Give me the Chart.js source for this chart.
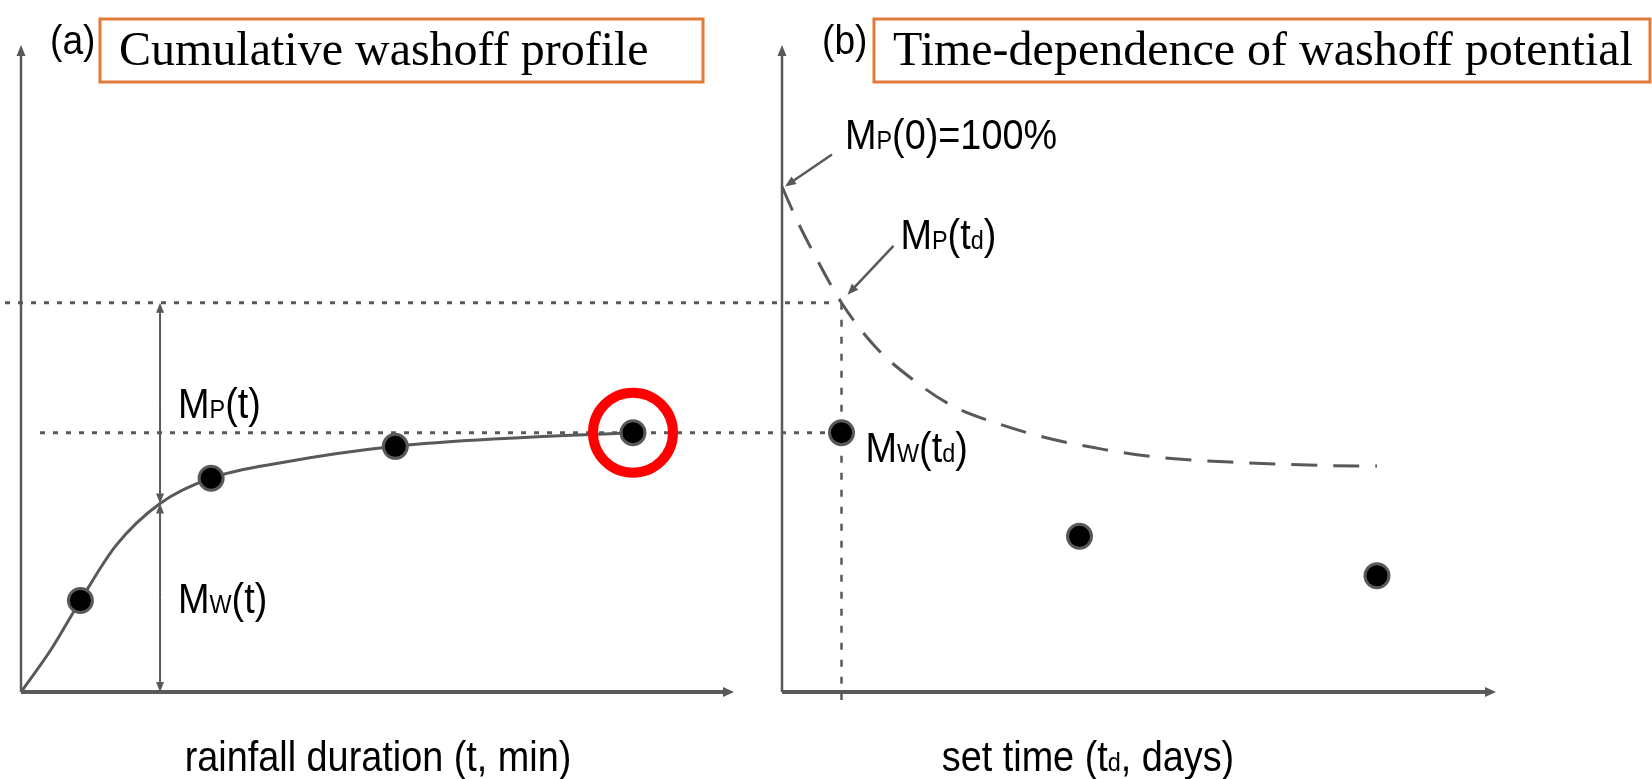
<!DOCTYPE html>
<html>
<head>
<meta charset="utf-8">
<script src="https://cdn.jsdelivr.net/npm/chart.js@4.4.1/dist/chart.umd.min.js"></script>
<style>
  html, body { margin: 0; padding: 0; background: #fff; }
  #wrap { position: relative; width: 1652px; height: 779px; overflow: hidden; }
  #wrap canvas { position: absolute; left: 0; top: 0; }
</style>
</head>
<body>
<div id="wrap">
  <canvas id="potential" width="1652" height="779"></canvas>
  <canvas id="washoff" width="1652" height="779"></canvas>
</div>
<script>
// (a) cumulative washoff M_W(t), % of initial load, over rainfall duration t (min)
const curveT  = [0, 2.5, 5, 8, 11.7, 16, 22, 31.5, 41, 51.5];
const curveMw = [0, 8.3, 18.1, 29, 37.3, 42.3, 45.4, 48.6, 50.2, 51.3];
const sampleT  = [5, 16, 31.5, 51.5];
const sampleMw = [18.1, 42.3, 48.6, 51.3];
const markT = 11.7;   // duration at which the M_P / M_W split is shown
const markMw = 37.3;

// (b) washoff potential M_P(td) and measured washoff M_W(td) over set time td (days)
const potentialTd = [0, 0.6, 1.4, 2.5, 3.9, 5.5, 7.2, 9.2, 11.1, 13.5, 15.9, 19.2, 23, 25];
const potentialMp = [100, 93.6, 86.2, 77, 68.4, 61.8, 56.5, 52.9, 50.3, 48, 46.4, 45.4, 44.8, 44.7];
const setTd = [2.5, 12.5, 25];
const setMw = [51.3, 30.8, 23];

// axis extents (arrow tips)
const T_MAX = 60;
const TD_MAX = 30;
const Y_MAX = 128;

(function () {
    "use strict";

    const INK = "#595959";
    const FRAME = "#E07B39";
    const SANS = '"Liberation Sans", Arial, sans-serif';
    const SERIF = '"Liberation Serif", "Times New Roman", serif';
    const LABEL_SIZE = 42;
    const NARROW = 0.9;

    const tdMark = setTd[0];
    const mpAtMark = potentialMp[potentialTd.indexOf(tdMark)];
    const mwAtMark = setMw[0];

    function pts(xs, ys) { return xs.map((v, i) => ({ x: v, y: ys[i] })); }

    function arrowHead(ctx, x, y, angle, len, half) {
        ctx.save();
        ctx.translate(x, y);
        ctx.rotate(angle);
        ctx.beginPath();
        ctx.moveTo(0, 0);
        ctx.lineTo(-len, -half);
        ctx.lineTo(-len, half);
        ctx.closePath();
        ctx.fill();
        ctx.restore();
    }

    function line(ctx, x1, y1, x2, y2, width, dash) {
        ctx.beginPath();
        ctx.lineWidth = width;
        ctx.setLineDash(dash || []);
        ctx.moveTo(x1, y1);
        ctx.lineTo(x2, y2);
        ctx.stroke();
        ctx.setLineDash([]);
    }

    function arrow(ctx, x1, y1, x2, y2, width, len, half) {
        const ang = Math.atan2(y2 - y1, x2 - x1);
        line(ctx, x1, y1, x2 - Math.cos(ang) * len * 0.6, y2 - Math.sin(ang) * len * 0.6, width);
        arrowHead(ctx, x2, y2, ang, len, half);
    }

    function drawAxes(ctx, a) {
        ctx.strokeStyle = INK;
        ctx.fillStyle = INK;
        line(ctx, a.left, a.bottom, a.left, a.top + 8, 2.5);
        arrowHead(ctx, a.left, a.top, -Math.PI / 2, 11, 4.5);
        line(ctx, a.left, a.bottom, a.right - 8, a.bottom, 4);
        arrowHead(ctx, a.right, a.bottom, 0, 11, 5);
    }

    // parts alternate: normal, small, normal, small ...
    function partFont(i, size) {
        return (i % 2 ? Math.round(size * 0.62) : size) + "px " + SANS;
    }

    function drawParts(ctx, parts, x, y, size, align, sx) {
        sx = sx || NARROW;
        let w = 0;
        parts.forEach((p, i) => { ctx.font = partFont(i, size); w += ctx.measureText(p).width; });
        ctx.save();
        ctx.translate(align === "center" ? x - w * sx / 2 : x, y);
        ctx.scale(sx, 1);
        ctx.textAlign = "left";
        ctx.textBaseline = "alphabetic";
        ctx.fillStyle = "#000";
        let cx = 0;
        parts.forEach((p, i) => {
            ctx.font = partFont(i, size);
            ctx.fillText(p, cx, 0);
            cx += ctx.measureText(p).width;
        });
        ctx.restore();
    }

    function drawHeading(ctx, tag, tagX, title, boxX, boxR) {
        drawParts(ctx, [tag], tagX, 54, 40, "left", 0.93);
        ctx.strokeStyle = FRAME;
        ctx.lineWidth = 3;
        ctx.setLineDash([]);
        ctx.strokeRect(boxX, 19, boxR - boxX, 63);
        ctx.textAlign = "left";
        ctx.textBaseline = "alphabetic";
        ctx.fillStyle = "#000";
        ctx.font = "48px " + SERIF;
        ctx.fillText(title, boxX + 19, 65);
    }

    function baseOptions(padding, xMax) {
        return {
            responsive: false,
            animation: false,
            events: [],
            layout: { padding: padding, autoPadding: false },
            plugins: { legend: { display: false }, tooltip: { enabled: false } },
            scales: {
                x: { type: "linear", min: 0, max: xMax, display: false },
                y: { type: "linear", min: 0, max: Y_MAX, display: false }
            }
        };
    }

    const dotStyle = {
        pointRadius: 12,
        pointBackgroundColor: "#000",
        pointBorderColor: INK,
        pointBorderWidth: 3,
        showLine: false,
        clip: false
    };

    // panel (b) sits underneath so its guide lines pass behind panel (a)'s marks
    const potentialDecor = {
        id: "potentialDecor",
        beforeDatasetsDraw(chart) {
            const { ctx, chartArea: a, scales: { x, y } } = chart;
            ctx.save();
            drawAxes(ctx, a);
            ctx.strokeStyle = INK;
            const xm = x.getPixelForValue(tdMark);
            line(ctx, 5, y.getPixelForValue(mpAtMark), xm - 5, y.getPixelForValue(mpAtMark), 3, [5, 8]);
            line(ctx, 40, y.getPixelForValue(mwAtMark), xm, y.getPixelForValue(mwAtMark), 3, [5, 8]);
            line(ctx, xm, y.getPixelForValue(mpAtMark), xm, a.bottom + 8, 2.5, [7, 10]);
            ctx.restore();
        },
        afterDatasetsDraw(chart) {
            const { ctx, scales: { x, y } } = chart;
            ctx.save();
            ctx.strokeStyle = INK;
            ctx.fillStyle = INK;
            const x0 = x.getPixelForValue(potentialTd[0]);
            const y0 = y.getPixelForValue(potentialMp[0]);
            const xm = x.getPixelForValue(tdMark);
            const ym = y.getPixelForValue(mpAtMark);
            const yw = y.getPixelForValue(mwAtMark);
            arrow(ctx, x0 + 50, y0 - 32, x0 + 3, y0, 2.5, 11, 4.5);
            arrow(ctx, xm + 52, ym - 57, xm + 6, ym - 8, 2.5, 11, 4.5);
            drawParts(ctx, ["M", "P", "(0)=100%"], x0 + 63, y0 - 38, LABEL_SIZE);
            drawParts(ctx, ["M", "P", "(t", "d", ")"], xm + 59, ym - 54, LABEL_SIZE);
            drawParts(ctx, ["M", "W", "(t", "d", ")"], xm + 24, yw + 29, LABEL_SIZE);
            drawHeading(ctx, "(b)", 822, "Time-dependence of washoff potential", 874, 1650);
            drawParts(ctx, ["set time (t", "d", ", days)"], 1088, 771, LABEL_SIZE, "center");
            ctx.restore();
        }
    };

    const washoffDecor = {
        id: "washoffDecor",
        beforeDatasetsDraw(chart) {
            const { ctx, chartArea: a, scales: { x, y } } = chart;
            ctx.save();
            drawAxes(ctx, a);
            ctx.strokeStyle = INK;
            ctx.fillStyle = INK;
            const xm = x.getPixelForValue(markT);
            const yb = y.getPixelForValue(0);
            const ys = y.getPixelForValue(markMw);
            const yt = y.getPixelForValue(mpAtMark);
            // M_W(t) below the curve, M_P(t) above it
            arrow(ctx, xm, (yb + ys) / 2, xm, yb, 2, 10, 4);
            arrow(ctx, xm, (yb + ys) / 2, xm, ys, 2, 10, 4);
            arrow(ctx, xm, (ys + yt) / 2, xm, ys, 2, 10, 4);
            arrow(ctx, xm, (ys + yt) / 2, xm, yt, 2, 10, 4);
            ctx.restore();
        },
        afterDatasetsDraw(chart) {
            const { ctx, scales: { x, y } } = chart;
            ctx.save();
            const xm = x.getPixelForValue(markT);
            drawParts(ctx, ["M", "P", "(t)"], xm + 18, y.getPixelForValue((markMw + mpAtMark) / 2) + 15, LABEL_SIZE);
            drawParts(ctx, ["M", "W", "(t)"], xm + 18, y.getPixelForValue(markMw / 2) + 15, LABEL_SIZE);
            drawHeading(ctx, "(a)", 50, "Cumulative washoff profile", 100, 703);
            drawParts(ctx, ["rainfall duration (t, min)"], 378, 771, LABEL_SIZE, "center");
            ctx.restore();
        }
    };

    new Chart(document.getElementById("potential"), {
        type: "scatter",
        data: {
            datasets: [
                {
                    data: pts(potentialTd, potentialMp),
                    showLine: true,
                    borderColor: INK,
                    borderWidth: 3,
                    borderDash: [26, 16],
                    pointRadius: 0,
                    cubicInterpolationMode: "monotone",
                    clip: false,
                    order: 2
                },
                Object.assign({ data: pts(setTd, setMw), order: 1 }, dotStyle)
            ]
        },
        options: baseOptions({ left: 782, right: 156, top: 45, bottom: 87 }, TD_MAX),
        plugins: [potentialDecor]
    });

    new Chart(document.getElementById("washoff"), {
        type: "scatter",
        data: {
            datasets: [
                {
                    data: pts(curveT, curveMw),
                    showLine: true,
                    borderColor: INK,
                    borderWidth: 3,
                    pointRadius: 0,
                    cubicInterpolationMode: "monotone",
                    clip: false,
                    order: 3
                },
                {
                    // highlight ring on the final sample, the value carried over to M_W(td)
                    data: pts(sampleT.slice(-1), sampleMw.slice(-1)),
                    pointRadius: 40,
                    pointBackgroundColor: "rgba(0,0,0,0)",
                    pointBorderColor: "#FF0000",
                    pointBorderWidth: 10,
                    showLine: false,
                    clip: false,
                    order: 2
                },
                Object.assign({ data: pts(sampleT, sampleMw), order: 1 }, dotStyle)
            ]
        },
        options: baseOptions({ left: 21, right: 918, top: 45, bottom: 87 }, T_MAX),
        plugins: [washoffDecor]
    });
})();
</script>
</body>
</html>
